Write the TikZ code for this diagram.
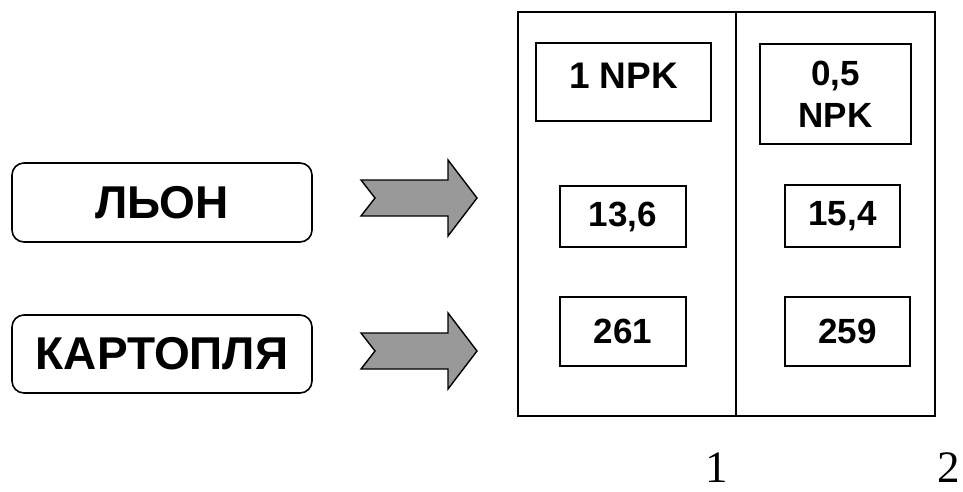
\documentclass[tikz,border=0pt]{standalone}
\usepackage{fontspec}
\setmainfont{Liberation Serif}
\newfontfamily\boxfont{Liberation Sans}
\usetikzlibrary{positioning}

\tikzset{
  crop/.style={draw, line width=1.6pt, rounded corners=12pt, inner sep=0pt,
    font=\boxfont\bfseries\fontsize{46}{55}\selectfont},
  plot/.style={draw, line width=1.4pt, inner sep=0pt},
  val/.style={draw, line width=1.4pt, inner sep=0pt, align=center,
    font=\boxfont\bfseries\fontsize{35}{42}\selectfont},
  blockarrow/.style={draw, line width=1.4pt, fill=black!40, line join=miter}
}

\begin{document}
\begin{tikzpicture}[x=1pt, y=-1pt]
    \useasboundingbox (0,0) rectangle (963,492);

    % crops
    \node [crop, minimum width=300pt, minimum height=79pt] (lion) at (162, 202.5) {ЛЬОН};
    \node [crop, minimum width=300pt, minimum height=78pt] (kart) at (162, 354) {КАРТОПЛЯ};

    % block arrows
    \foreach \yy in {198, 351}
      \draw [blockarrow] (361, \yy-18) -- (448, \yy-18) -- (448, \yy-38) -- (477, \yy)
        -- (448, \yy+38) -- (448, \yy+18) -- (361, \yy+18) -- (375, \yy) -- cycle;

    % two plots
    \node [plot, minimum width=218pt, minimum height=404pt] (plotA) at (627, 214) {};
    \node [plot, minimum width=199pt, minimum height=404pt] (plotB) at (835.5, 214) {};

    \node [val, minimum width=175pt, minimum height=78pt, text height=26pt, text depth=12pt,
      font=\boxfont\bfseries\fontsize{37}{42}\selectfont] (npkA) at (623.5, 82) {1 NPK};
    \node [val, minimum width=151pt, minimum height=100pt] (npkB) at (835.5, 94) {0,5\\NPK};
    \node [val, minimum width=126pt, minimum height=61pt] (flaxA) at (623, 216.5) {13,6};
    \node [val, minimum width=115pt, minimum height=62pt] (flaxB) at (842.5, 216) {15,4};
    \node [val, minimum width=126pt, minimum height=69pt] (potA) at (623, 331.5) {261};
    \node [val, minimum width=125pt, minimum height=69pt] (potB) at (847.5, 331.5) {259};

    \node [font=\fontsize{45}{54}\selectfont] (numA) at (717, 468) {1};
    \node [font=\fontsize{45}{54}\selectfont] (numB) at (949, 468) {2};
\end{tikzpicture}
\end{document}
